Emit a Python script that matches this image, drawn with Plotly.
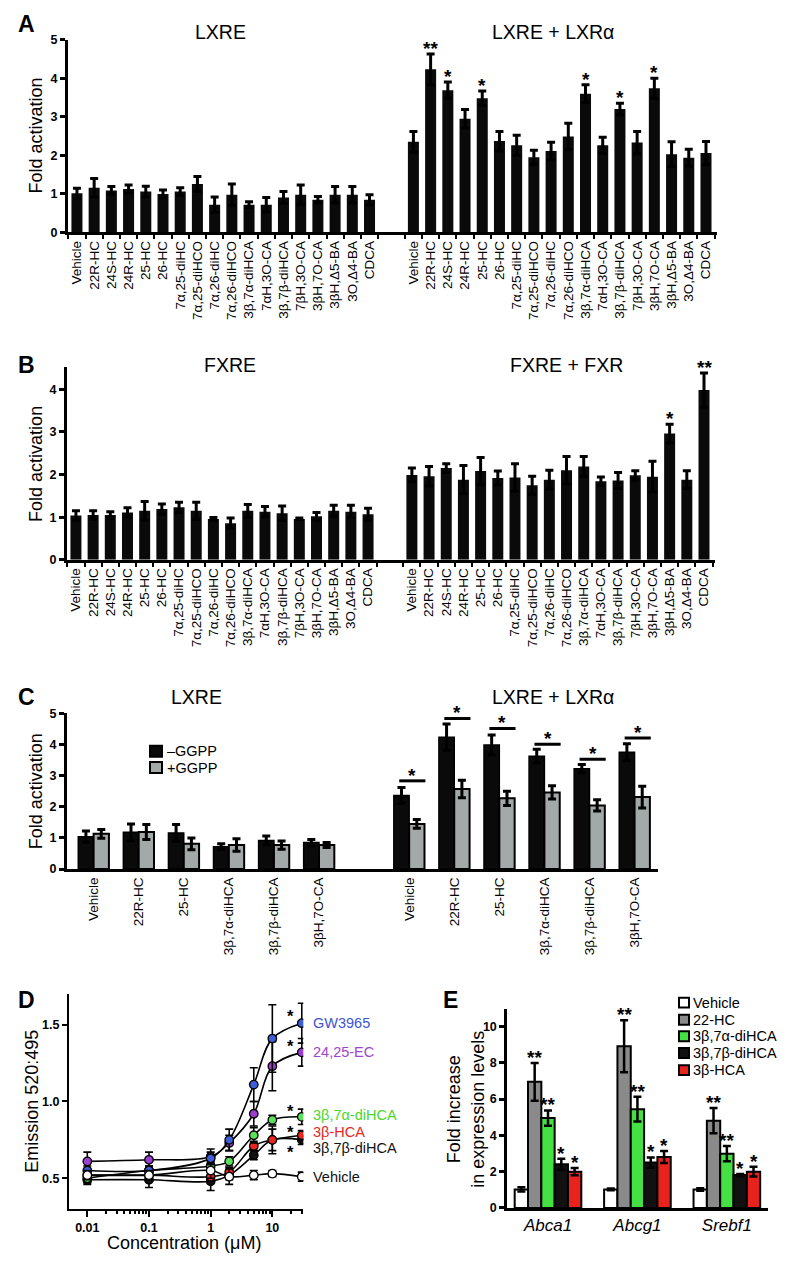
import math
import plotly.graph_objects as go

FONT = "Liberation Sans, Arial, Helvetica, sans-serif"
W, H = 792, 1273

# ---------------- Panels A / B data ----------------
compounds = ["Vehicle", "22R-HC", "24S-HC", "24R-HC", "25-HC", "26-HC",
             "7α,25-diHC", "7α,25-diHCO", "7α,26-diHC", "7α,26-diHCO",
             "3β,7α-diHCA", "7αH,3O-CA", "3β,7β-diHCA", "7βH,3O-CA",
             "3βH,7O-CA", "3βH,Δ5-BA", "3O,Δ4-BA", "CDCA"]

lxre_vals = [1.02, 1.16, 1.09, 1.13, 1.06, 1.00, 1.06, 1.26, 0.72, 0.98,
             0.72, 0.72, 0.91, 0.98, 0.85, 0.98, 0.98, 0.85]
lxre_err = [0.13, 0.24, 0.10, 0.10, 0.14, 0.10, 0.10, 0.19, 0.20, 0.28,
            0.08, 0.19, 0.15, 0.25, 0.08, 0.21, 0.21, 0.13]
lxra_vals = [2.35, 4.23, 3.69, 2.95, 3.48, 2.37, 2.26, 1.95, 2.11, 2.49,
             3.60, 2.26, 3.20, 2.33, 3.74, 2.03, 1.94, 2.06]
lxra_err = [0.27, 0.40, 0.21, 0.24, 0.19, 0.25, 0.26, 0.18, 0.23, 0.34,
            0.23, 0.21, 0.15, 0.29, 0.26, 0.32, 0.22, 0.30]
lxra_stars = ["", "**", "*", "", "*", "", "", "", "", "",
              "*", "", "*", "", "*", "", "", ""]

fxre_vals = [1.04, 1.05, 1.05, 1.11, 1.15, 1.19, 1.23, 1.15, 0.96, 0.86,
             1.15, 1.13, 1.09, 0.96, 1.02, 1.15, 1.13, 1.07]
fxre_err = [0.11, 0.10, 0.08, 0.11, 0.22, 0.12, 0.12, 0.20, 0.03, 0.12,
            0.15, 0.12, 0.17, 0.02, 0.09, 0.13, 0.15, 0.14]
fxr_vals = [1.99, 1.96, 2.15, 1.88, 2.08, 1.92, 1.93, 1.75, 1.88, 2.10,
            2.19, 1.84, 1.86, 1.98, 1.95, 2.96, 1.88, 3.98]
fxr_err = [0.16, 0.23, 0.10, 0.33, 0.32, 0.16, 0.32, 0.21, 0.22, 0.32,
           0.23, 0.10, 0.19, 0.11, 0.36, 0.22, 0.21, 0.40]
fxr_stars = ["", "", "", "", "", "", "", "", "", "",
             "", "", "", "", "", "*", "", "**"]

# ---------------- Panel C data ----------------
c_compounds = ["Vehicle", "22R-HC", "25-HC", "3β,7α-diHCA", "3β,7β-diHCA", "3βH,7O-CA"]
c_lxre_minus = [1.04, 1.18, 1.16, 0.72, 0.92, 0.85]
c_lxre_minus_err = [0.18, 0.27, 0.27, 0.09, 0.14, 0.10]
c_lxre_plus = [1.13, 1.19, 0.81, 0.77, 0.77, 0.77]
c_lxre_plus_err = [0.14, 0.24, 0.19, 0.20, 0.13, 0.08]
c_lxra_minus = [2.36, 4.23, 3.98, 3.62, 3.22, 3.75]
c_lxra_minus_err = [0.26, 0.42, 0.32, 0.22, 0.13, 0.27]
c_lxra_plus = [1.45, 2.57, 2.27, 2.46, 2.04, 2.31]
c_lxra_plus_err = [0.14, 0.28, 0.23, 0.21, 0.18, 0.35]
c_sig_level = [2.83, 4.83, 4.51, 4.00, 3.52, 4.20]
c_legend = ["–GGPP", "+GGPP"]

# ---------------- Panel D data ----------------
conc = [0.01, 0.1, 1, 2, 5, 10, 30]
d_series = ["GW3965", "24,25-EC", "3β,7α-diHCA", "3β-HCA", "3β,7β-diHCA", "Vehicle"]
gw3965 = [0.55, 0.55, 0.63, 0.75, 1.11, 1.41, 1.51]
gw3965_err = [0.03, 0.03, 0.04, 0.07, 0.11, 0.22, 0.13]
ec2425 = [0.61, 0.62, 0.64, 0.73, 0.92, 1.23, 1.32]
ec2425_err = [0.06, 0.05, 0.05, 0.05, 0.08, 0.16, 0.09]
dihca7a = [0.50, 0.55, 0.58, 0.61, 0.78, 0.88, 0.90]
dihca7a_err = [0.03, 0.03, 0.03, 0.03, 0.05, 0.03, 0.05]
hca3b = [0.52, 0.52, 0.51, 0.54, 0.71, 0.75, 0.78]
hca3b_err = [0.03, 0.03, 0.03, 0.03, 0.03, 0.07, 0.03]
dihca7b = [0.49, 0.49, 0.48, 0.52, 0.65, 0.75, 0.75]
dihca7b_err = [0.03, 0.05, 0.06, 0.03, 0.03, 0.09, 0.03]
vehicle_d = [0.52, 0.52, 0.55, 0.51, 0.52, 0.53, 0.51]
vehicle_d_err = [0.03, 0.03, 0.05, 0.05, 0.03, 0.02, 0.03]
d_star_y = [1.57, 1.38, 0.955, 0.815, 0.69]
d_label_y = [1.51, 1.32, 0.91, 0.80, 0.70, 0.51]

# ---------------- Panel E data ----------------
genes = ["Abca1", "Abcg1", "Srebf1"]
e_groups = ["Vehicle", "22-HC", "3β,7α-diHCA", "3β,7β-diHCA", "3β-HCA"]
e_vals = [[1.02, 1.02, 1.02],
          [6.95, 8.91, 4.81],
          [4.95, 5.44, 2.99],
          [2.41, 2.50, 1.81],
          [2.00, 2.81, 2.00]]
e_errs = [[0.12, 0.05, 0.07],
          [1.04, 1.43, 0.69],
          [0.42, 0.68, 0.42],
          [0.30, 0.28, 0.06],
          [0.20, 0.33, 0.27]]
e_stars = ["", "**", "**", "*", "*"]

# ---------------- styling ----------------
D_COLORS = ["#3f5fd8", "#9b3fcf", "#5be05b", "#e8261e", "#111111", "#ffffff"]
D_LABEL_COLORS = ["#3b55d6", "#a044d0", "#4cd62c", "#e6261f", "#111111", "#111111"]
E_COLORS = ["#ffffff", "#8a8a8a", "#44e044", "#111111", "#e8221c"]
C_COLORS = ["#0a0a0a", "#a3a9a9"]

RIGHT0_AB = 19.55   # start position of the right-hand group in A/B
RIGHT0_C = 7.0      # start position of right-hand group in C

fig = go.Figure()


def px_x(p):
    return p / W


def px_y(p):
    return 1 - p / H


def err(arr, thick=3, width=4):
    return dict(type="data", array=arr, color="black", thickness=thick, width=width, visible=True)


annotations = []
shapes = []


def star(text, x, y, xref, yref, size=19, yshift=-7):
    annotations.append(dict(text=text, x=x, y=y, xref=xref, yref=yref, showarrow=False,
                            yanchor="bottom", xanchor="center", yshift=yshift,
                            font=dict(family=FONT, size=size, color="black", weight="bold")))


# ---------------- Panel A ----------------
n = len(compounds)
xl = list(range(n))
xr = [RIGHT0_AB + i for i in range(n)]
fig.add_trace(go.Bar(x=xl, y=lxre_vals, width=0.64, marker=dict(color="#0a0a0a", line_width=0),
                     error_y=err(lxre_err), xaxis="x", yaxis="y", showlegend=False))
fig.add_trace(go.Bar(x=xr, y=lxra_vals, width=0.64, marker=dict(color="#0a0a0a", line_width=0),
                     error_y=err(lxra_err), xaxis="x", yaxis="y", showlegend=False))
for i, s in enumerate(lxra_stars):
    if s:
        star(s, xr[i], lxra_vals[i] + lxra_err[i], "x", "y")

# ---------------- Panel B ----------------
fig.add_trace(go.Bar(x=xl, y=fxre_vals, width=0.64, marker=dict(color="#0a0a0a", line_width=0),
                     error_y=err(fxre_err), xaxis="x2", yaxis="y2", showlegend=False))
fig.add_trace(go.Bar(x=xr, y=fxr_vals, width=0.64, marker=dict(color="#0a0a0a", line_width=0),
                     error_y=err(fxr_err), xaxis="x2", yaxis="y2", showlegend=False))
for i, s in enumerate(fxr_stars):
    if s:
        star(s, xr[i], fxr_vals[i] + fxr_err[i], "x2", "y2")

# ---------------- Panel C ----------------
nc = len(c_compounds)
cl = list(range(nc))
cr = [RIGHT0_C + i for i in range(nc)]
BW = 0.34
for xs, minus, minus_e, plus, plus_e in [(cl, c_lxre_minus, c_lxre_minus_err, c_lxre_plus, c_lxre_plus_err),
                                         (cr, c_lxra_minus, c_lxra_minus_err, c_lxra_plus, c_lxra_plus_err)]:
    fig.add_trace(go.Bar(x=xs, y=minus, width=BW, offset=-BW, name=c_legend[0], showlegend=False,
                         marker=dict(color=C_COLORS[0], line=dict(color="black", width=1.5)),
                         error_y=err(minus_e), xaxis="x3", yaxis="y3"))
    fig.add_trace(go.Bar(x=xs, y=plus, width=BW, offset=0, name=c_legend[1], showlegend=False,
                         marker=dict(color=C_COLORS[1], line=dict(color="black", width=2)),
                         error_y=err(plus_e), xaxis="x3", yaxis="y3"))
for i, lvl in enumerate(c_sig_level):
    shapes.append(dict(type="line", xref="x3", yref="y3", x0=cr[i] - 0.22, x1=cr[i] + 0.36,
                       y0=lvl, y1=lvl, line=dict(color="black", width=3)))
    star("*", cr[i] + 0.07, lvl, "x3", "y3", yshift=-7)

# ---------------- Panel D ----------------
d_vals = [gw3965, ec2425, dihca7a, hca3b, dihca7b, vehicle_d]
d_errs = [gw3965_err, ec2425_err, dihca7a_err, hca3b_err, dihca7b_err, vehicle_d_err]
order = [4, 3, 2, 1, 0, 5]
for k in order:
    fig.add_trace(go.Scatter(x=conc, y=d_vals[k], mode="lines+markers", name=d_series[k],
                             line=dict(color="black", width=1.6, shape="spline", smoothing=1.0),
                             marker=dict(color=D_COLORS[k], size=8.5, line=dict(color="black", width=1.3)),
                             error_y=dict(type="data", array=d_errs[k], color="black", thickness=1.6, width=4),
                             xaxis="x4", yaxis="y4", showlegend=False))
for k in range(5):
    annotations.append(dict(text="*", x=math.log10(19.5), y=d_star_y[k], xref="x4", yref="y4",
                            showarrow=False, xanchor="center", yanchor="middle", height=13,
                            valign="middle", yshift=-2,
                            font=dict(family=FONT, size=16.5, color="black", weight="bold")))
for k, lab in enumerate(d_series):
    annotations.append(dict(text=lab, x=px_x(311), y=d_label_y[k], xref="paper", yref="y4",
                            xanchor="left", yanchor="middle", showarrow=False,
                            font=dict(family=FONT, size=14.5, color=D_LABEL_COLORS[k])))

# ---------------- Panel E ----------------
EW = 0.149
for k, grp in enumerate(e_groups):
    off = -2.5 * EW + k * EW
    fig.add_trace(go.Bar(x=genes, y=e_vals[k], width=EW, offset=off, name=grp, showlegend=False,
                         marker=dict(color=E_COLORS[k], line=dict(color="black", width=2)),
                         error_y=err(e_errs[k], thick=2.5, width=4),
                         xaxis="x5", yaxis="y5"))
    if e_stars[k]:
        for g in range(len(genes)):
            star(e_stars[k], g + off + EW / 2, e_vals[k][g] + e_errs[k][g], "x5", "y5")


# ---------------- hand-made legends (swatch + label) ----------------
def legend_rows(labels, colors, sq_x0, sq_x1, text_x, row_y, half_h, size=14.5):
    for lab, col, ry in zip(labels, colors, row_y):
        shapes.append(dict(type="rect", xref="paper", yref="paper",
                           x0=px_x(sq_x0), x1=px_x(sq_x1), y0=px_y(ry + half_h), y1=px_y(ry - half_h),
                           fillcolor=col, line=dict(color="black", width=2)))
        annotations.append(dict(text=lab, x=px_x(text_x), y=px_y(ry), xref="paper", yref="paper",
                                xanchor="left", yanchor="middle", showarrow=False,
                                font=dict(family=FONT, size=size, color="black")))


legend_rows(c_legend, C_COLORS, 150, 162, 165, [752.5, 769], 5.5)
legend_rows(e_groups, E_COLORS, 679, 689, 691, [1006.7, 1024, 1040.7, 1057.7, 1075], 5)

# ---------------- axes ----------------
tick_bold = dict(family=FONT, size=12.5, color="black", weight="bold")
lab_font = dict(family=FONT, size=13.5, color="black")


def yaxis(domain, rng, vals, texts, anchor, lw=3):
    return dict(domain=domain, range=rng, anchor=anchor, showline=True, linewidth=lw,
                linecolor="black", ticks="outside", ticklen=5, tickwidth=lw, tickcolor="black",
                tickmode="array", tickvals=vals, ticktext=texts, tickfont=tick_bold,
                showgrid=False, zeroline=False, fixedrange=True)


bounds = [i - 0.5 for i in range(n + 1)] + [RIGHT0_AB + i - 0.5 for i in range(n + 1)]
xa_ab = dict(range=[-0.52, 37.19], showline=True, linewidth=3, linecolor="black",
             tickmode="array", tickvals=xl + xr, ticktext=compounds + compounds,
             tickangle=-90, tickfont=lab_font, ticks="", showgrid=False, zeroline=False,
             minor=dict(tickmode="array", tickvals=bounds, ticks="outside", ticklen=4,
                        tickwidth=2, tickcolor="black", showgrid=False))

layout_axes = dict(
    xaxis=dict(domain=[px_x(68), px_x(717)], anchor="y", **xa_ab),
    yaxis=yaxis([px_y(228), px_y(33)], [0, 5], [0, 1, 2, 3, 4, 5],
                ["0", "1", "2", "3", "4", "5"], "x"),
    xaxis2=dict(domain=[px_x(67), px_x(715)], anchor="y2", **xa_ab),
    yaxis2=yaxis([px_y(559), px_y(364)], [0, 4.52], [0, 1, 2, 3, 4],
                 ["0", "1", "2", "3", "4"], "x2"),
    xaxis3=dict(domain=[px_x(67), px_x(658)], anchor="y3", range=[-0.59, 12.52],
                showline=True, linewidth=3, linecolor="black", tickmode="array",
                tickvals=cl + cr, ticktext=c_compounds + c_compounds, tickangle=-90,
                tickfont=lab_font, ticks="", showgrid=False, zeroline=False),
    yaxis3=yaxis([px_y(871.7), px_y(714)], [0, 5], [0, 1, 2, 3, 4, 5],
                 ["0", "1", "2", "3", "4", "5"], "x3"),
    xaxis4=dict(domain=[px_x(69), px_x(303.3)], anchor="y4", type="log",
                range=[-2.297, 1.502], showline=True, linewidth=2, linecolor="black",
                tickmode="array", tickvals=[0.01, 0.1, 1, 10], ticktext=["0.01", "0.1", "1", "10"],
                ticks="outside", ticklen=6, tickwidth=2, tickcolor="black", tickfont=tick_bold,
                showgrid=False, zeroline=False,
                minor=dict(tickmode="array",
                           tickvals=[m * 10 ** e for e in (-2, -1, 0, 1) for m in range(2, 10)
                                     if m * 10 ** e <= 30],
                           ticks="outside", ticklen=3, tickwidth=1.5, tickcolor="black",
                           showgrid=False)),
    yaxis4=yaxis([px_y(1215), px_y(998.3)], [0.302, 1.698], [0.5, 1.0, 1.5],
                 ["0.5", "1.0", "1.5"], "x4", lw=2),
    xaxis5=dict(domain=[px_x(507.3), px_x(768)], anchor="y5", type="category",
                range=[-0.455, 2.46], showline=True, linewidth=3, linecolor="black",
                ticks="", tickfont=dict(family=FONT, size=17, color="black", style="italic"),
                showgrid=False, zeroline=False),
    yaxis5=yaxis([px_y(1214.3), px_y(1013.3)], [0, 10.95], [0, 2, 4, 6, 8, 10],
                 ["0", "2", "4", "6", "8", "10"], "x5"),
)


# ---------------- titles / labels ----------------
def txt(text, x, y, size=18, bold=False, angle=0, color="black", xanchor="center"):
    annotations.append(dict(text=text, x=px_x(x), y=px_y(y), xref="paper", yref="paper",
                            showarrow=False, textangle=angle, xanchor=xanchor, yanchor="middle",
                            font=dict(family=FONT, size=size, color=color,
                                      weight="bold" if bold else "normal")))


for letter, (lx, ly) in zip("ABCDE", [(26, 17), (27, 362), (26, 698), (27, 1004), (450, 1004)]):
    txt(letter, lx, ly, size=23, bold=True)

txt("LXRE", 220, 25, size=19.5)
txt("LXRE + LXRα", 553, 25, size=19.5)
txt("FXRE", 230, 362, size=19.5)
txt("FXRE + FXR", 566, 362, size=19.5)
txt("LXRE", 196, 698, size=19.5)
txt("LXRE + LXRα", 553, 698, size=19.5)

txt("Fold activation", 36, 130, angle=-90)
txt("Fold activation", 36, 462, angle=-90)
txt("Fold activation", 36, 793, angle=-90)
txt("Emission 520:495", 32, 1107, angle=-90)
txt("Concentration (μM)", 184, 1250)
txt("Fold increase<br>in expression levels", 466, 1114, angle=-90)

fig.update_layout(
    width=W, height=H, margin=dict(l=0, r=0, t=0, b=0),
    paper_bgcolor="white", plot_bgcolor="white", barmode="overlay",
    font=dict(family=FONT, color="black"),
    annotations=annotations, shapes=shapes, showlegend=False,
    **layout_axes,
)

fig.write_html("out.html",
               config={"displayModeBar": False},
               post_script="document.body.style.margin='0';document.body.style.padding='0';"
                           "document.body.style.overflow='hidden';")
